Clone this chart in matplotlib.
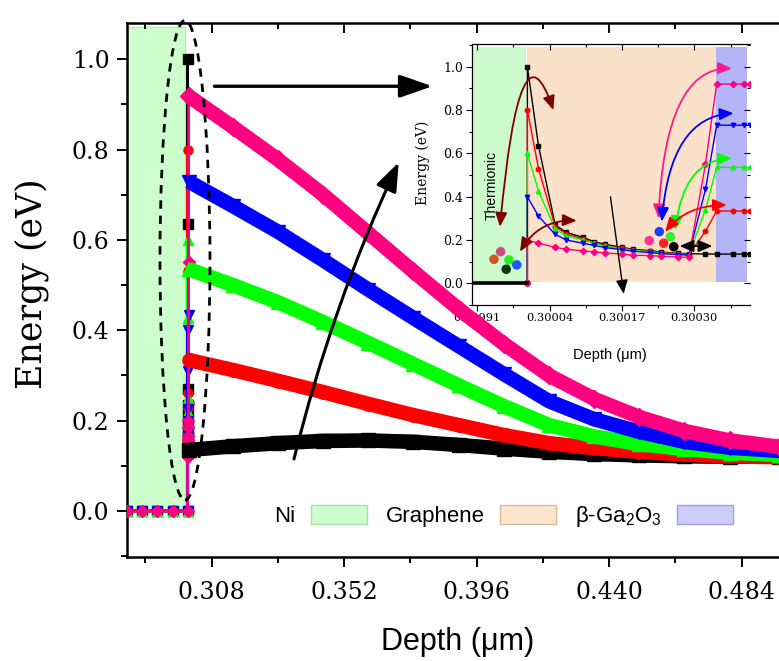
import matplotlib.pyplot as plt
from matplotlib.patches import Rectangle, Ellipse, FancyArrowPatch, Patch
from matplotlib.path import Path
from matplotlib.ticker import MultipleLocator, FixedLocator, FormatStrFormatter

plt.rcParams['font.family'] = 'DejaVu Serif'
plt.rcParams['mathtext.fontset'] = 'custom'
plt.rcParams['mathtext.rm'] = 'Liberation Sans'

# ---------------- data ----------------
# Ni side (flat at 0) then interface zoom then decay into beta-Ga2O3
flat_x = [0.2800, 0.2850, 0.2900, 0.2950, 0.3000]
flat_y = [0.0, 0.0, 0.0, 0.0, 0.0]

inset_x = [0.30000, 0.30002, 0.30005, 0.30007, 0.30010, 0.30012, 0.30014, 0.30017,
           0.30019, 0.30022, 0.30024, 0.30027, 0.30029, 0.30032, 0.30034, 0.30037, 0.30039]
black_in = [1.00, 0.635, 0.27, 0.235, 0.212, 0.192, 0.18, 0.166, 0.157, 0.151, 0.145, 0.138, 0.137, 0.135, 0.135, 0.135, 0.135]
red_in = [0.80, 0.53, 0.262, 0.228, 0.205, 0.188, 0.175, 0.163, 0.155, 0.148, 0.142, 0.137, 0.133, 0.24, 0.334, 0.334, 0.334]
green_in = [0.60, 0.426, 0.25, 0.22, 0.20, 0.185, 0.172, 0.16, 0.152, 0.146, 0.14, 0.135, 0.132, 0.34, 0.535, 0.535, 0.535]
blue_in = [0.40, 0.31, 0.226, 0.20, 0.185, 0.175, 0.165, 0.155, 0.148, 0.142, 0.137, 0.133, 0.13, 0.434, 0.73, 0.73, 0.73]
pink_in = [0.20, 0.185, 0.166, 0.157, 0.15, 0.145, 0.14, 0.135, 0.13, 0.128, 0.125, 0.122, 0.12, 0.55, 0.92, 0.92, 0.92]

main_x = [0.3004, 0.315, 0.330, 0.345, 0.360, 0.375, 0.390, 0.405, 0.420, 0.435, 0.450, 0.465, 0.480, 0.4965]
black_main = [0.135, 0.143, 0.150, 0.155, 0.156, 0.153, 0.146, 0.138, 0.131, 0.126, 0.123, 0.121, 0.120, 0.120]
red_main = [0.334, 0.312, 0.288, 0.263, 0.237, 0.212, 0.190, 0.168, 0.150, 0.139, 0.131, 0.125, 0.121, 0.119]
green_main = [0.535, 0.500, 0.462, 0.418, 0.372, 0.325, 0.278, 0.232, 0.190, 0.165, 0.148, 0.137, 0.129, 0.124]
blue_main = [0.729, 0.675, 0.618, 0.555, 0.490, 0.427, 0.365, 0.303, 0.243, 0.203, 0.175, 0.153, 0.140, 0.133]
pink_main = [0.918, 0.850, 0.778, 0.700, 0.615, 0.530, 0.447, 0.370, 0.300, 0.248, 0.208, 0.177, 0.156, 0.142]

series = [('#000000', 's', black_in, black_main),
          ('#FF0000', 'o', red_in, red_main),
          ('#00FF00', '^', green_in, green_main),
          ('#0000FF', 'v', blue_in, blue_main),
          ('#FF0080', 'D', pink_in, pink_main)]

# layer regions
main_ni = (0.2790, 0.2991, 1.071)
inset_ni = (0.29990, 0.2999976)
inset_gr = (0.30000, 0.300339)
inset_ga = (0.300339, 0.300394)
inset_top = 1.089

fig = plt.figure(figsize=(7.79, 6.61), dpi=100)

# ---------------- inset (drawn below main layer) ----------------
ins = fig.add_axes([0.6055, 0.5386, 0.3573, 0.3949])
ins.set_zorder(1)
ins.add_patch(Rectangle((inset_ni[0], 0.008), inset_ni[1] - inset_ni[0], inset_top - 0.008,
                        facecolor='#CCFACC', edgecolor='none', zorder=0))
ins.add_patch(Rectangle((inset_gr[0], 0.004), inset_gr[1] - inset_gr[0], inset_top - 0.004,
                        facecolor='#FBE1CA', edgecolor='none', zorder=0))
ins.add_patch(Rectangle((inset_ga[0], 0.008), inset_ga[1] - inset_ga[0], inset_top - 0.008,
                        facecolor='#B4B4F8', edgecolor='none', zorder=0))

for color, mk, yin, ymain in series:
    ins.plot(flat_x + inset_x + main_x, flat_y + yin + ymain, color=color, lw=1.0,
             marker=mk, ms=3.2, zorder=3)
ins.plot(flat_x, flat_y, color='black', lw=2.6, zorder=4)

# colored carrier dots
dot_x = [0.299940, 0.299952, 0.299967, 0.299981, 0.299962,
         0.300219, 0.300237, 0.300245, 0.300257, 0.300263]
dot_y = [0.111, 0.146, 0.108, 0.085, 0.065, 0.197, 0.2385, 0.185, 0.215, 0.169]
dot_c = ['#D2541E', '#CC4D7A', '#22EE22', '#2255EE', '#0A3A0A',
         '#FF3399', '#1E3CFF', '#FF2020', '#33EE33', '#000000']
ins.scatter(dot_x, dot_y, s=34, c=dot_c, zorder=5)


def curved_arrow(axis, p0, c, p1, color, style, lw=1.3, scale=12):
    path = Path([p0, c, p1], [Path.MOVETO, Path.CURVE3, Path.CURVE3])
    axis.add_patch(FancyArrowPatch(path=path, arrowstyle=style, mutation_scale=scale,
                                   color=color, lw=lw, transform=axis.transData, zorder=6))


hd = '<|-|>,head_length=0.7,head_width=0.3'
curved_arrow(ins, (0.2999508, 0.2615), (0.2999868, 1.2615), (0.3000467, 0.80), '#800000', hd)
curved_arrow(ins, (0.2999868, 0.146), (0.3000209, 0.297), (0.3000887, 0.289), '#800000', hd)
curved_arrow(ins, (0.3002355, 0.30), (0.3002475, 1.00), (0.3003674, 0.992), '#FF1A8C', hd)
curved_arrow(ins, (0.3002415, 0.285), (0.3002565, 0.769), (0.3003704, 0.785), '#0000FF', hd)
curved_arrow(ins, (0.3002655, 0.246), (0.3002805, 0.569), (0.3003674, 0.577), '#00FF00', hd)
curved_arrow(ins, (0.3002475, 0.2385), (0.3002865, 0.3615), (0.3003584, 0.3615), '#FF0000', hd)
ins.add_patch(FancyArrowPatch((0.3002685, 0.172), (0.3003374, 0.172), arrowstyle=hd,
                              mutation_scale=12, color='black', lw=1.3, zorder=6))
ins.add_patch(FancyArrowPatch((0.3001486, 0.412), (0.3001738, -0.0615),
                              arrowstyle='-|>,head_length=0.7,head_width=0.3',
                              mutation_scale=12, color='black', lw=1.0, zorder=6))

ins.text(0.299936, 0.454, 'Thermionic', rotation=90, ha='center', va='center',
         family='Liberation Sans', fontsize=10)

ins.set_xlim(0.29990, 0.300400)
ins.set_ylim(-0.1, 1.105)
ins.xaxis.set_major_locator(FixedLocator([0.29991, 0.30004, 0.30017, 0.30030]))
ins.xaxis.set_minor_locator(FixedLocator([0.299975, 0.300105, 0.300235, 0.300365]))
ins.xaxis.set_major_formatter(FormatStrFormatter('%.5f'))
ins.yaxis.set_major_locator(MultipleLocator(0.2))
ins.yaxis.set_minor_locator(MultipleLocator(0.1))
ins.yaxis.set_major_formatter(FormatStrFormatter('%.1f'))
ins.tick_params(which='major', direction='out', length=4, width=0.8, pad=2)
ins.tick_params(which='minor', direction='out', length=2.5, width=0.8)
ins.tick_params(axis='x', labelsize=8.2)
ins.tick_params(axis='y', labelsize=9)
for s in ['left', 'bottom']:
    ins.spines[s].set_linewidth(0.9)
ins.spines['right'].set_visible(False)
ins.spines['top'].set_visible(False)
itop = ins.secondary_xaxis('top')
itop.xaxis.set_major_locator(FixedLocator([0.29991, 0.30004, 0.30017, 0.30030]))
itop.xaxis.set_minor_locator(FixedLocator([0.299975, 0.300105, 0.300235, 0.300365]))
itop.tick_params(which='both', direction='in', labeltop=False, width=0.8)
itop.tick_params(which='major', length=4)
itop.tick_params(which='minor', length=2.5)
itop.spines['top'].set_linewidth(0.9)
iright = ins.secondary_yaxis('right')
iright.yaxis.set_major_locator(MultipleLocator(0.2))
iright.yaxis.set_minor_locator(MultipleLocator(0.1))
iright.tick_params(which='both', direction='in', labelright=False, width=0.8)
iright.tick_params(which='major', length=4)
iright.tick_params(which='minor', length=2.5)
iright.spines['right'].set_visible(False)
ins.set_ylabel('Energy (eV)', fontsize=10)
ins.yaxis.set_label_coords(-0.15, 0.543)
ins.set_xlabel('Depth (μm)', family='Liberation Sans', fontsize=10.5)
ins.xaxis.set_label_coords(0.497, -0.166)

# ---------------- main axes ----------------
ax = fig.add_axes([0.1630, 0.1573, 0.8370, 0.8079])
ax.set_zorder(2)
ax.patch.set_visible(False)

ax.add_patch(Rectangle((main_ni[0], 0.0), main_ni[1] - main_ni[0], main_ni[2],
                       facecolor='#CCFFCC', edgecolor='#B8EAB8', lw=1, zorder=0))

for color, mk, yin, ymain in series:
    ax.plot(flat_x + inset_x, flat_y + yin, color=color, lw=2.0, marker=mk, ms=6.5, zorder=3)
for color, mk, yin, ymain in series:
    ax.plot(main_x, ymain, color=color, lw=10.5, solid_capstyle='butt', marker=mk, ms=9.5,
            zorder=3)

ax.add_patch(Ellipse((0.29913, 0.555), 0.0166, 1.062, fill=False, ls=(0, (3, 2.5)),
                     lw=2, edgecolor='black', zorder=5, clip_on=False))
ax.add_patch(FancyArrowPatch((0.3080, 0.940), (0.3822, 0.940),
                             arrowstyle='-|>,head_length=0.8,head_width=0.28',
                             mutation_scale=25, color='black', lw=2.4, zorder=6))
ax.add_patch(FancyArrowPatch((0.3351, 0.109), (0.3705, 0.777), connectionstyle='arc3,rad=-0.05',
                             arrowstyle='-|>,head_length=0.8,head_width=0.3',
                             mutation_scale=22, color='black', lw=2.2, zorder=6))

ax.set_xlim(0.27987, 0.49639)
ax.set_ylim(-0.102, 1.08)
ax.xaxis.set_major_locator(MultipleLocator(0.044, offset=0.308 % 0.044))
ax.xaxis.set_minor_locator(MultipleLocator(0.044, offset=0.286 % 0.044))
ax.xaxis.set_major_formatter(FormatStrFormatter('%.3f'))
ax.yaxis.set_major_locator(MultipleLocator(0.2))
ax.yaxis.set_minor_locator(MultipleLocator(0.1))
ax.yaxis.set_major_formatter(FormatStrFormatter('%.1f'))
ax.tick_params(which='major', direction='out', length=7.5, width=1.4, labelsize=17)
ax.tick_params(which='minor', direction='out', length=4.5, width=1.4)
ax.tick_params(axis='x', pad=10)
ax.tick_params(axis='y', pad=5)
ax.spines['right'].set_visible(False)
ax.spines['top'].set_visible(False)
for s in ['left', 'bottom']:
    ax.spines[s].set_linewidth(1.8)
top = ax.secondary_xaxis('top')
top.xaxis.set_major_locator(MultipleLocator(0.044, offset=0.308 % 0.044))
top.xaxis.set_minor_locator(MultipleLocator(0.044, offset=0.286 % 0.044))
top.tick_params(which='both', direction='in', labeltop=False, width=1.4)
top.tick_params(which='major', length=7.5)
top.tick_params(which='minor', length=4.5)
top.spines['top'].set_linewidth(1.8)

fig.text(32 / 779, 1 - 284 / 661, 'Energy (eV)', rotation=90, ha='center', va='center',
         fontsize=25)
fig.text(458 / 779, 1 - 642 / 661, 'Depth (μm)', ha='center', va='center',
         family='Liberation Sans', fontsize=22)

handles = [Patch(facecolor='#CCFFCC', edgecolor='#A8E0A8'),
           Patch(facecolor='#FFE5CC', edgecolor='#D9B99B'),
           Patch(facecolor='#CCCCFF', edgecolor='#A0A0E0')]
labels = ['Ni', 'Graphene', 'β-Ga$_2$O$_3$']
fig.legend(handles, labels, loc='center', bbox_to_anchor=(0.6464, 0.2179), ncol=3,
           markerfirst=False, frameon=False, prop={'family': 'Liberation Sans', 'size': 16},
           handlelength=2.5, handleheight=0.95, handletextpad=0.7, columnspacing=0.85)

fig.savefig('out.png', dpi=100)
